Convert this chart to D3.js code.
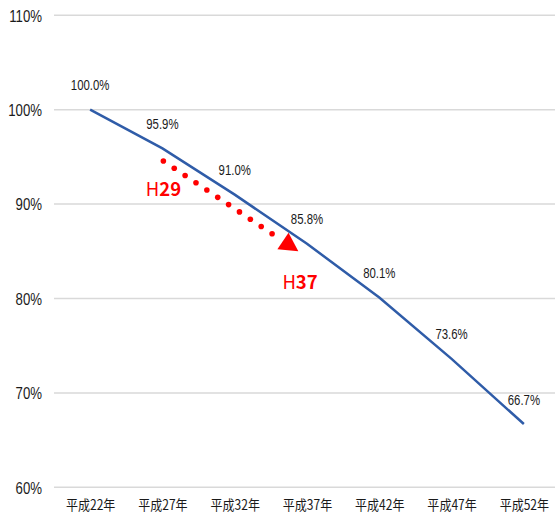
<!DOCTYPE html>
<html>
<head>
<meta charset="utf-8">
<script src="https://cdn.jsdelivr.net/npm/d3@7/dist/d3.min.js"></script>
<style>
  html, body { margin: 0; padding: 0; background: #fff; }
  svg { display: block; }
  .num { font-family: "Liberation Sans", Arial, sans-serif; }
  .cjk { font-family: "Noto Sans CJK JP", "Noto Sans", sans-serif; }
</style>
</head>
<body>
<svg id="chart" width="555" height="522"></svg>
<script>
// Population index by year (平成22年 = 100%)
const categories = ["平成22年", "平成27年", "平成32年", "平成37年", "平成42年", "平成47年", "平成52年"];
const values = [100.0, 95.9, 91.0, 85.8, 80.1, 73.6, 66.7];
const yTicks = [60, 70, 80, 90, 100, 110];

// Dotted trend arrow annotation (category index, percent)
const arrowFrom = { idx: 1.013, value: 94.57 };
const arrowTo = { idx: 2.88, value: 85.0 };
const annotations = [
  { prefix: "H", num: "29", idx: 1.015, value: 91.75 },
  { prefix: "H", num: "37", idx: 2.904, value: 81.9 }
];

(function draw() {
  const svg = d3.select("#chart");
  const mLeft = 54, mRight = 560, mTop = 15.3, mBottom = 487.3;

  const x = d3.scalePoint().domain(categories).range([mLeft, mRight]).padding(0.5);
  const xIdx = d3.scaleLinear().domain([0, categories.length - 1])
    .range([x(categories[0]), x(categories[categories.length - 1])]);
  const y = d3.scaleLinear().domain([60, 110]).range([mBottom, mTop]);

  // Gridlines
  svg.append("g").selectAll("line").data(yTicks).join("line")
    .attr("x1", mLeft).attr("x2", 555)
    .attr("y1", d => y(d)).attr("y2", d => y(d))
    .attr("stroke", "#d9d9d9").attr("stroke-width", 1.5);

  // Y axis labels (condensed)
  const yAxis = d3.axisLeft(y).tickValues(yTicks).tickFormat(d => d + "%").tickSize(0).tickPadding(0);
  const yg = svg.append("g").attr("transform", "translate(42,0.5)").call(yAxis);
  yg.select(".domain").remove();
  yg.selectAll("text").attr("class", "num").attr("font-size", 16.5).attr("fill", "#1a1a1a")
    .attr("x", 0).attr("transform", "scale(0.8,1)");

  // X axis labels (condensed)
  const xAxis = d3.axisBottom(x).tickSize(0).tickPadding(0);
  const xg = svg.append("g").attr("transform", "translate(0,500)").call(xAxis);
  xg.select(".domain").remove();
  xg.selectAll("text").attr("class", "cjk").attr("font-size", 14).attr("fill", "#1a1a1a")
    .attr("y", 0).attr("dy", "0.72em").attr("transform", "scale(0.86,1)");

  // Main line
  const line = d3.line().x((d, i) => x(categories[i])).y(d => y(d));
  svg.append("path").datum(values)
    .attr("d", line).attr("fill", "none")
    .attr("stroke", "#2f5ca8").attr("stroke-width", 2.5);

  // Value labels (condensed)
  svg.append("g").selectAll("g").data(values).join("g")
    .attr("transform", (d, i) => `translate(${x(categories[i])},${y(d) - 24.5})`)
    .append("text")
    .attr("class", "num")
    .attr("transform", "scale(0.76,1)")
    .attr("text-anchor", "middle").attr("dominant-baseline", "central")
    .attr("font-size", 15).attr("fill", "#1a1a1a")
    .text(d => d.toFixed(1) + "%");

  // Red dotted arrow
  const x0 = xIdx(arrowFrom.idx), y0 = y(arrowFrom.value);
  const x1 = xIdx(arrowTo.idx), y1 = y(arrowTo.value);
  const ang = Math.atan2(y1 - y0, x1 - x0);
  const headLen = 18.5, headHalf = 10;
  const bx = x1 - headLen * Math.cos(ang), by = y1 - headLen * Math.sin(ang);
  const nSteps = 11;
  const dots = d3.range(nSteps).map(k => {
    const t = k / nSteps;
    return [x0 + (bx - x0) * t, y0 + (by - y0) * t];
  });
  svg.append("g").selectAll("circle").data(dots).join("circle")
    .attr("cx", d => d[0]).attr("cy", d => d[1]).attr("r", 2.8).attr("fill", "#ff0000");
  const px = -Math.sin(ang), py = Math.cos(ang);
  svg.append("path")
    .attr("d", `M${x1},${y1}L${bx + px * headHalf},${by + py * headHalf}L${bx - px * headHalf},${by - py * headHalf}Z`)
    .attr("fill", "#ff0000");

  // H29 / H37 labels
  const ann = svg.append("g").selectAll("text").data(annotations).join("text")
    .attr("class", "cjk")
    .attr("x", d => xIdx(d.idx)).attr("y", d => y(d.value))
    .attr("text-anchor", "middle").attr("dominant-baseline", "central")
    .attr("font-size", 18.5).attr("fill", "#ff0000");
  ann.append("tspan").attr("font-weight", "normal").text(d => d.prefix);
  ann.append("tspan").attr("font-weight", "bold").text(d => d.num);
})();
</script>
</body>
</html>
